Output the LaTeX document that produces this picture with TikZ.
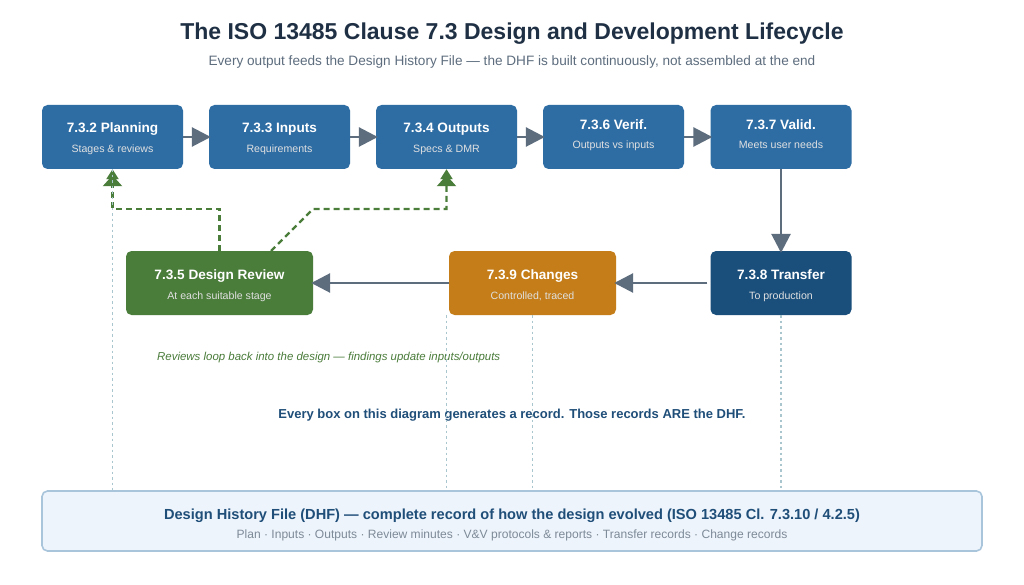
\documentclass[tikz,border=0pt]{standalone}
\usepackage{fontspec}
\setmainfont{Liberation Sans}
\usepackage{xcolor}
\usetikzlibrary{arrows.meta,positioning,calc}
\definecolor{stageblue}{HTML}{2E6DA4}
\definecolor{transferblue}{HTML}{1A4F7C}
\definecolor{reviewgreen}{HTML}{4A7C3A}
\definecolor{changeorange}{HTML}{C47D18}
\definecolor{flowgrey}{HTML}{5D6D7E}
\definecolor{titleink}{HTML}{1F3044}
\definecolor{dhfink}{HTML}{1F4E79}
\definecolor{dhfedge}{HTML}{A9C5DC}
\definecolor{dhffill}{HTML}{EEF4FB}
\definecolor{traceblue}{HTML}{A9C6CF}
\tikzset{
  stagebox/.style={rectangle,rounded corners=5.5pt,minimum height=64pt,inner sep=0pt},
  wide/.style={minimum width=141pt},
  stagehead/.style={anchor=base,text=white,font=\fontsize{13.6}{15}\selectfont\bfseries,inner sep=0pt},
  stagesub/.style={anchor=base,text=white!88!black,font=\fontsize{10.6}{12}\selectfont,inner sep=0pt},
  flow/.style={draw=flowgrey,line width=2.8pt,-{Triangle[length=19pt,width=19pt]},shorten >=-2pt},
  loopback/.style={draw=reviewgreen,line width=2.2pt,dash pattern=on 6pt off 4pt,-{Triangle[length=11pt,width=19pt,sep=-4pt]Triangle[length=10pt,width=12pt]}},
  trace/.style={draw=traceblue,line width=1.6pt,dash pattern=on 2.5pt off 3pt}
}
\begin{document}
\begin{tikzpicture}[x=1pt,y=-1pt]
  \useasboundingbox (0,0) rectangle (1024,585);
  \fill[white] (0,0) rectangle (1024,585);
  % Heading
  \node[text=titleink,font=\fontsize{23}{28}\selectfont\bfseries] (heading) at (512,33.5) {The ISO 13485 Clause 7.3 Design and Development Lifecycle};
  \node[text=flowgrey,font=\fontsize{13.6}{16}\selectfont] (subheading) at (512,61.5) {Every output feeds the Design History File — the DHF is built continuously, not assembled at the end};
  % Row 1
  \node[stagebox,wide,fill=stageblue] (planning) at (112.5,137) {};
  \node[stagebox,wide,fill=stageblue] (inputs) at (279.5,137) {};
  \node[stagebox,wide,fill=stageblue] (outputs) at (446.5,137) {};
  \node[stagebox,wide,fill=stageblue] (verif) at (613.5,137) {};
  \node[stagebox,wide,fill=stageblue] (valid) at (781,137) {};
  % Row 2
  \node[stagebox,minimum width=187pt,fill=reviewgreen] (review) at (219.5,283) {};
  \node[stagebox,minimum width=167pt,fill=changeorange] (changes) at (532.5,283) {};
  \node[stagebox,wide,fill=transferblue] (transfer) at (781,283) {};
  % Box texts
  \node[stagehead] (planningT) at (112.5,133) {7.3.2 Planning};
  \node[stagesub] (planningS) at (112.5,153) {Stages \& reviews};
  \node[stagehead] (inputsT) at (279.5,133) {7.3.3 Inputs};
  \node[stagesub] (inputsS) at (279.5,153) {Requirements};
  \node[stagehead] (outputsT) at (446.5,133) {7.3.4 Outputs};
  \node[stagesub] (outputsS) at (446.5,153) {Specs \& DMR};
  \node[stagehead] (verifT) at (613.5,129.5) {7.3.6 Verif.};
  \node[stagesub] (verifS) at (613.5,149) {Outputs vs inputs};
  \node[stagehead] (validT) at (781,129.5) {7.3.7 Valid.};
  \node[stagesub] (validS) at (781,149) {Meets user needs};
  \node[stagehead] (reviewT) at (219.5,279) {7.3.5 Design Review};
  \node[stagesub] (reviewS) at (219.5,299) {At each suitable stage};
  \node[stagehead] (changesT) at (532.5,279) {7.3.9 Changes};
  \node[stagesub] (changesS) at (532.5,299) {Controlled, traced};
  \node[stagehead] (transferT) at (781,279) {7.3.8 Transfer};
  \node[stagesub] (transferS) at (781,299) {To production};
  % DHF bar
  \node[rectangle,rounded corners=5.5pt,draw=dhfedge,line width=1.6pt,fill=dhffill,minimum width=940pt,minimum height=60pt,inner sep=0pt] (dhf) at (512,521) {};
  \node[text=dhfink,font=\fontsize{14.6}{17}\selectfont\bfseries,inner sep=0pt] (dhfT) at (512,516) {Design History File (DHF) — complete record of how the design evolved (ISO 13485 Cl. 7.3.10 / 4.2.5)};
  \node[text=flowgrey!80,font=\fontsize{12.05}{14}\selectfont,inner sep=0pt] (dhfS) at (512,535.5) {Plan · Inputs · Outputs · Review minutes · V\&V protocols \& reports · Transfer records · Change records};
  % Notes
  \node[anchor=west,text=reviewgreen,font=\fontsize{11.45}{13}\selectfont\itshape,inner sep=0pt] (loopnote) at (157,358) {Reviews loop back into the design — findings update inputs/outputs};
  \node[text=dhfink,font=\fontsize{13}{15}\selectfont\bfseries,inner sep=0pt] (recordnote) at (512,415) {Every box on this diagram generates a record. Those records ARE the DHF.};
  % Flow
  \draw[flow] (planning) -- (inputs);
  \draw[flow] (inputs) -- (outputs);
  \draw[flow] (outputs) -- (verif);
  \draw[flow] (verif) -- (valid);
  \draw[flow] (valid) -- (transfer);
  \draw[flow,shorten <=3pt] (transfer) -- (changes);
  \draw[flow] (changes) -- (review);
  % Review loops
  \coordinate (reviewout) at (271,251);
  \draw[loopback] (review.north) -- ++(0,-42) -| (planning.south);
  \draw[loopback] (reviewout) -- (313,209) -| (outputs.south);
  % Trace lines into the DHF
  \coordinate (changesleft) at (446.3,315);
  \draw[trace] (planning.south) -- (planning.south |- dhf.north);
  \draw[trace] (changesleft) -- (changesleft |- dhf.north);
  \draw[trace] (changes.south) -- (changes.south |- dhf.north);
  \draw[trace] (transfer.south) -- (transfer.south |- dhf.north);
\end{tikzpicture}
\end{document}
